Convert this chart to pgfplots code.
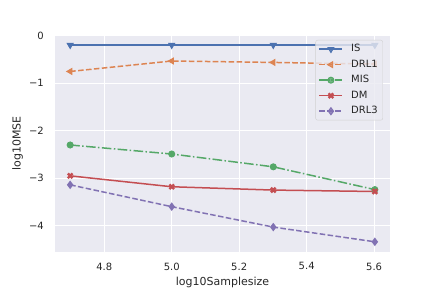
\documentclass[border=0pt]{standalone}
\usepackage{fontspec}
\setmainfont{DejaVu Sans}
\usepackage{pgfplots}
\pgfplotsset{compat=1.18}
\definecolor{bgc}{HTML}{EAEAF2}
\definecolor{txt}{HTML}{262626}
\definecolor{cIS}{HTML}{4C72B0}
\definecolor{cDRLa}{HTML}{DD8452}
\definecolor{cMIS}{HTML}{55A868}
\definecolor{cDM}{HTML}{C44E52}
\definecolor{cDRLc}{HTML}{8172B3}
\begin{document}
\begin{tikzpicture}
\useasboundingbox (0,0) rectangle (432bp,288bp);
\begin{axis}[
  at={(55bp,36bp)}, anchor=south west,
  scale only axis, width=335bp, height=217bp,
  xmin=4.654, xmax=5.647, ymin=-4.555, ymax=0.018,
  axis background/.style={fill=bgc},
  axis line style={draw=none},
  major tick length=0pt,
  grid=major,
  major grid style={white, line width=1bp, solid},
  xtick={4.8,5.0,5.2,5.4,5.6},
  xticklabels={4.8,5.0,5.2,5.4,5.6},
  ytick={-4,-3,-2,-1,0},
  yticklabels={−4,−3,−2,−1,0},
  every tick label/.append style={font=\fontsize{10bp}{12bp}\selectfont, text=txt},
  yticklabel style={inner sep=0pt, anchor=east, xshift=-11bp},
  xticklabel style={inner sep=0pt, anchor=north, yshift=-10.5bp},
  xlabel={log10Samplesize},
  ylabel={log10MSE},
  xlabel style={at={(axis description cs:0.5,0)}, anchor=north, inner sep=0pt, yshift=-24.5bp, font=\fontsize{11bp}{13bp}\selectfont, text=txt},
  ylabel style={at={(axis description cs:-0.0955,0.5)}, anchor=south, inner sep=0pt, font=\fontsize{11bp}{13bp}\selectfont, text=txt},
  legend cell align=left,
  legend style={at={(axis description cs:0.979,0.977)}, anchor=north east,
    fill=bgc, fill opacity=0.8, text opacity=1, draw=black!18, rounded corners=2bp,
    font=\fontsize{10bp}{12bp}\selectfont, text=txt,
    nodes={inner sep=2bp, text height=7.5bp, text depth=2.5bp},
    row sep=1.5bp, inner xsep=3bp, inner ysep=2bp,
    /tikz/every odd column/.append style={column sep=6bp}},
  legend image code/.code={\draw[mark repeat=2,mark phase=2] plot coordinates {(0bp,0bp) (11.5bp,0bp) (23bp,0bp)};},
]
\addplot[cIS, line width=1.5bp, mark=triangle*, mark size=3.3bp, mark options={solid, rotate=180, line width=1bp}]
  coordinates {(4.69897,-0.195) (5.0,-0.195) (5.30103,-0.195) (5.60206,-0.195)};
\addlegendentry{IS}
\addplot[cDRLa, line width=1.5bp, dash pattern=on 5.55bp off 2.4bp, mark=triangle*, mark size=3.3bp, mark options={solid, rotate=90, line width=1bp}]
  coordinates {(4.69897,-0.75) (5.0,-0.53) (5.30103,-0.56) (5.60206,-0.595)};
\addlegendentry{DRL1}
\addplot[cMIS, line width=1.5bp, dash pattern=on 9.6bp off 2.4bp on 1.5bp off 2.4bp, mark=*, mark size=3bp, mark options={solid, line width=1bp}]
  coordinates {(4.69897,-2.30) (5.0,-2.49) (5.30103,-2.76) (5.60206,-3.24)};
\addlegendentry{MIS}
\addplot[cDM, line width=1.5bp, mark=x, mark size=3.3bp, mark options={solid, line width=2.4bp}]
  coordinates {(4.69897,-2.95) (5.0,-3.18) (5.30103,-3.25) (5.60206,-3.28)};
\addlegendentry{DM}
\addplot[cDRLc, line width=1.5bp, dash pattern=on 5.55bp off 2.4bp, mark=diamond*, mark size=3.5bp, mark options={solid, line width=1bp}]
  coordinates {(4.69897,-3.14) (5.0,-3.60) (5.30103,-4.03) (5.60206,-4.34)};
\addlegendentry{DRL3}
\end{axis}
\end{tikzpicture}
\end{document}
